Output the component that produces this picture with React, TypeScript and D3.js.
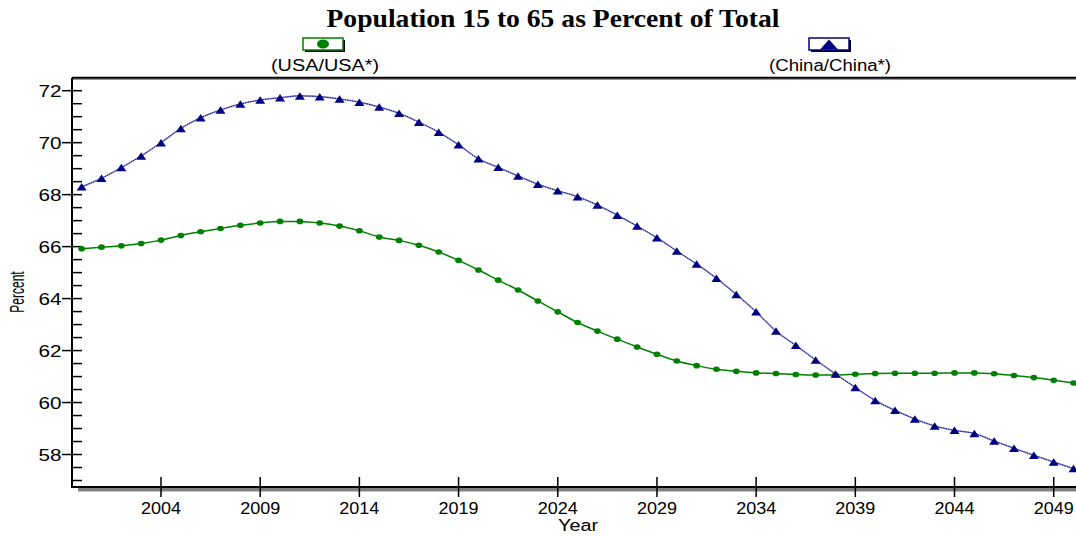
import React from "react";
import * as d3 from "d3";

const years = [2000, 2001, 2002, 2003, 2004, 2005, 2006, 2007, 2008, 2009, 2010, 2011, 2012, 2013, 2014, 2015, 2016, 2017, 2018, 2019, 2020, 2021, 2022, 2023, 2024, 2025, 2026, 2027, 2028, 2029, 2030, 2031, 2032, 2033, 2034, 2035, 2036, 2037, 2038, 2039, 2040, 2041, 2042, 2043, 2044, 2045, 2046, 2047, 2048, 2049, 2050];

const usaValues = [65.92, 65.98, 66.03, 66.12, 66.25, 66.43, 66.57, 66.70, 66.82, 66.91, 66.97, 66.97, 66.91, 66.79, 66.61, 66.37, 66.24, 66.05, 65.79, 65.47, 65.10, 64.71, 64.33, 63.91, 63.49, 63.08, 62.75, 62.44, 62.14, 61.86, 61.60, 61.42, 61.28, 61.20, 61.14, 61.12, 61.08, 61.06, 61.06, 61.09, 61.12, 61.13, 61.13, 61.13, 61.14, 61.14, 61.11, 61.04, 60.96, 60.86, 60.75];

const chinaValues = [68.30, 68.63, 69.04, 69.49, 70.00, 70.55, 70.96, 71.26, 71.49, 71.64, 71.73, 71.80, 71.77, 71.68, 71.56, 71.37, 71.13, 70.79, 70.40, 69.92, 69.38, 69.05, 68.72, 68.40, 68.15, 67.92, 67.60, 67.21, 66.79, 66.34, 65.83, 65.33, 64.78, 64.16, 63.49, 62.75, 62.20, 61.64, 61.10, 60.58, 60.08, 59.70, 59.37, 59.10, 58.93, 58.81, 58.52, 58.24, 57.97, 57.71, 57.46];

const xTicks = [2004, 2009, 2014, 2019, 2024, 2029, 2034, 2039, 2044, 2049];
const yMajorTicks = [58, 60, 62, 64, 66, 68, 70, 72];
const yMinorTicks = [57, 57.5, 58.5, 59, 59.5, 60.5, 61, 61.5, 62.5, 63, 63.5, 64.5, 65, 65.5, 66.5, 67, 67.5, 68.5, 69, 69.5, 70.5, 71, 71.5];

const title = "Population 15 to 65 as Percent of Total";
const usaLabel = "(USA/USA*)";
const chinaLabel = "(China/China*)";

const W = 1076;
const H = 536;
const SANS = "'Liberation Sans', Arial, sans-serif";
const SERIF = "'Liberation Serif', 'Times New Roman', serif";

export default function App() {
  const x = d3.scaleLinear().domain([2000, 2050]).range([81.65, 1073.55]);
  const y = d3.scaleLinear().domain([56.75, 72.5]).range([487, 77.7]);
  const axisX = 72;
  const axisBottom = 487;
  const axisTop = y(72.5);

  const line = d3
    .line<number>()
    .x((_, i) => x(years[i]))
    .y((d) => y(d))
    .curve(d3.curveMonotoneX);

  const tri = (cx: number, cy: number, w: number, h: number) =>
    `M${cx},${cy - h / 2}L${cx + w / 2},${cy + h / 2}L${cx - w / 2},${cy + h / 2}Z`;

  return (
    <svg width={W} height={H} style={{ position: "absolute", left: 0, top: 0, background: "#fff" }}>
      <rect x={0} y={0} width={W} height={H} fill="#fff" />
      {/* Title */}
      <text
        x={553}
        y={27}
        textAnchor="middle"
        fontFamily={SERIF}
        fontWeight="bold"
        fontSize={25}
        textLength={453}
        lengthAdjust="spacingAndGlyphs"
        fill="#000"
      >
        {title}
      </text>

      {/* Legend: USA */}
      <rect x={305} y={40} width={40} height={12} fill="#000" />
      <rect x={303} y={38} width={40} height={12} fill="#fff" stroke="#008000" strokeWidth={1.5} />
      <ellipse cx={323} cy={44} rx={6} ry={4.6} fill="#008000" />
      <text x={325} y={71} textAnchor="middle" fontFamily={SANS} fontSize={16} textLength={108} lengthAdjust="spacingAndGlyphs">
        {usaLabel}
      </text>

      {/* Legend: China */}
      <rect x={811} y={40} width={40} height={12} fill="#000" />
      <rect x={809} y={38} width={40} height={12} fill="#fff" stroke="#000080" strokeWidth={1.5} />
      <path d={tri(829, 44.5, 18, 10)} fill="#000080" />
      <text x={830} y={71} textAnchor="middle" fontFamily={SANS} fontSize={16} textLength={122} lengthAdjust="spacingAndGlyphs">
        {chinaLabel}
      </text>

      {/* Top frame line */}
      <line x1={axisX} x2={W} y1={axisTop + 1.5} y2={axisTop + 1.5} stroke="#999" strokeWidth={1.5} />
      <line x1={axisX} x2={W} y1={axisTop} y2={axisTop} stroke="#000" strokeWidth={2} />

      {/* Y axis */}
      <line x1={axisX} x2={axisX} y1={axisTop} y2={axisBottom} stroke="#000" strokeWidth={2} />
      {yMinorTicks.map((t) => (
        <line key={"m" + t} x1={axisX} x2={axisX + 10} y1={y(t)} y2={y(t)} stroke="#000" strokeWidth={1.5} />
      ))}
      {yMajorTicks.map((t) => (
        <g key={"M" + t}>
          <line x1={axisX - 10} x2={axisX + 10} y1={y(t)} y2={y(t)} stroke="#000" strokeWidth={1.5} />
          <text
            x={61.5}
            y={y(t) + 6}
            textAnchor="end"
            fontFamily={SANS}
            fontSize={16}
            textLength={23}
            lengthAdjust="spacingAndGlyphs"
          >
            {t}
          </text>
        </g>
      ))}
      <g transform="translate(24,292) rotate(-90) scale(0.6,1)">
        <text x={0} y={0} textAnchor="middle" fontFamily={SANS} fontSize={20}>
          Percent
        </text>
      </g>

      {/* X axis */}
      <rect x={78} y={axisBottom + 1} width={W - 78} height={3.5} fill="#808080" />
      <line x1={axisX - 1} x2={W} y1={axisBottom} y2={axisBottom} stroke="#000" strokeWidth={2} />
      {xTicks.map((t) => (
        <g key={"x" + t}>
          <line x1={x(t)} x2={x(t)} y1={axisBottom - 10} y2={axisBottom + 10} stroke="#000" strokeWidth={1.5} />
          <text
            x={x(t)}
            y={513.5}
            textAnchor="middle"
            fontFamily={SANS}
            fontSize={16}
            textLength={40}
            lengthAdjust="spacingAndGlyphs"
          >
            {t}
          </text>
        </g>
      ))}
      <text x={578} y={531} textAnchor="middle" fontFamily={SANS} fontSize={16} textLength={40} lengthAdjust="spacingAndGlyphs">
        Year
      </text>

      {/* USA series */}
      <path d={line(usaValues) || ""} fill="none" stroke="#008000" strokeWidth={1.5} />
      {usaValues.map((v, i) => (
        <ellipse key={"u" + i} cx={x(years[i])} cy={y(v)} rx={3.4} ry={2.8} fill="#008000" />
      ))}

      {/* China series */}
      <path d={line(chinaValues) || ""} fill="none" stroke="#9090d0" strokeWidth={1.6} />
      <path d={line(chinaValues) || ""} fill="none" stroke="#000080" strokeWidth={0.9} strokeDasharray="1.5 1" />
      {chinaValues.map((v, i) => (
        <path key={"c" + i} d={tri(x(years[i]), y(v), 10, 7.5)} fill="#000080" />
      ))}
    </svg>
  );
}
